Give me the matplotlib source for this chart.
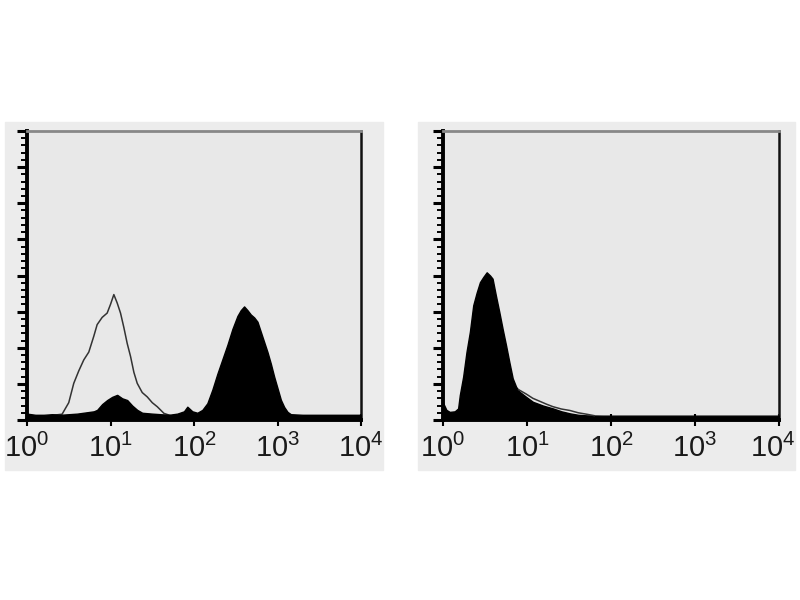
import numpy as np
import matplotlib
matplotlib.use("Agg")
import matplotlib.pyplot as plt
from matplotlib.patches import Rectangle
from matplotlib.ticker import FixedLocator, MultipleLocator
from matplotlib.transforms import ScaledTranslation

plt.rcParams["font.family"] = ["Liberation Sans", "DejaVu Sans"]
plt.rcParams["mathtext.default"] = "regular"

# ---- data (log10 of fluorescence, counts in % of full scale) ----
left_fill_log = [0.00, 0.10, 0.20, 0.30, 0.40, 0.50, 0.60, 0.70, 0.80, 0.84, 0.90, 0.96,
                 1.02, 1.08, 1.14, 1.20, 1.26, 1.32, 1.38, 1.50, 1.60, 1.70, 1.80, 1.88,
                 1.92, 1.98, 2.04, 2.10, 2.16, 2.22, 2.28, 2.34, 2.40, 2.46, 2.52, 2.56,
                 2.60, 2.64, 2.68, 2.72, 2.76, 2.80, 2.84, 2.88, 2.92, 2.96, 3.00, 3.04,
                 3.08, 3.12, 3.16, 3.30, 3.50, 3.70, 3.90, 4.00]
left_fill_cnt = [2.2, 1.8, 1.8, 2.0, 1.8, 2.0, 2.2, 2.6, 3.0, 3.5, 5.5, 6.9,
                 8.0, 8.7, 7.5, 6.9, 5.0, 3.5, 2.5, 2.2, 2.0, 1.8, 2.2, 3.0,
                 4.6, 3.0, 2.5, 3.5, 5.8, 10.5, 16.0, 21.0, 26.0, 31.5, 36.0, 38.0,
                 39.3, 38.0, 36.5, 35.5, 34.0, 30.5, 27.0, 23.5, 19.5, 15.0, 11.0, 7.0,
                 4.5, 2.8, 2.0, 1.8, 1.8, 1.8, 1.8, 1.8]

left_open_log = [0.00, 0.20, 0.28, 0.36, 0.42, 0.50, 0.56, 0.62, 0.68, 0.74, 0.80, 0.84,
                 0.90, 0.96, 1.00, 1.04, 1.08, 1.12, 1.16, 1.20, 1.24, 1.28, 1.32, 1.38,
                 1.44, 1.50, 1.56, 1.64, 1.75, 1.90]
left_open_cnt = [0.5, 0.5, 1.5, 1.8, 2.0, 6.0, 12.7, 17.0, 20.8, 23.5, 29.0, 33.0,
                 35.5, 37.0, 40.0, 43.4, 40.5, 37.0, 32.0, 26.5, 22.0, 16.5, 12.7, 9.5,
                 8.0, 6.0, 4.6, 2.3, 1.2, 0.8]

right_fill_log = [0.00, 0.04, 0.08, 0.14, 0.18, 0.20, 0.24, 0.28, 0.32, 0.36, 0.40, 0.44,
                  0.48, 0.52, 0.56, 0.59, 0.63, 0.67, 0.71, 0.75, 0.79, 0.83, 0.87, 0.91,
                  0.99, 1.07, 1.19, 1.31, 1.41, 1.51, 1.61, 1.71, 1.90, 2.20, 2.60, 3.00,
                  3.50, 4.00]
right_fill_cnt = [6.0, 3.5, 2.8, 3.0, 4.0, 8.6, 15.0, 23.6, 30.5, 39.7, 44.0, 47.7,
                  49.5, 51.1, 50.0, 48.9, 43.0, 37.4, 31.5, 25.9, 20.0, 14.4, 11.5, 9.8,
                  8.0, 6.3, 5.0, 4.0, 3.0, 2.3, 1.8, 1.6, 1.5, 1.5, 1.5, 1.5,
                  1.5, 1.5]

right_open_log = [0.90, 0.99, 1.07, 1.15, 1.23, 1.31, 1.41, 1.51, 1.61, 1.71, 1.80]
right_open_cnt = [10.5, 9.0, 7.5, 6.5, 5.5, 4.6, 3.8, 3.3, 2.5, 2.0, 1.5]

tick_values = [1, 10, 100, 1000, 10000]
tick_labels = [r"$10^0$", r"$10^1$", r"$10^2$", r"$10^3$", r"$10^4$"]

# ---- figure ----
fig = plt.figure(figsize=(8, 6), dpi=100)
fig.patch.set_facecolor("white")

panel_bg = "#ececec"
face = "#e8e8e8"
# panel backgrounds (figure coords)
fig.add_artist(Rectangle((5/800, 1-470/600), 378/800, 348/600,
                         transform=fig.transFigure, color=panel_bg, zorder=-5))
fig.add_artist(Rectangle((418/800, 1-470/600), 377/800, 348/600,
                         transform=fig.transFigure, color=panel_bg, zorder=-5))

axL = fig.add_axes([27/800, 1-420/600, 334/800, 289/600])
axR = fig.add_axes([443/800, 1-420/600, 336/800, 289/600])
axL.set_zorder(2)
axR.set_zorder(2)


def style(ax):
    ax.set_facecolor(face)
    ax.set_xscale("log")
    ax.set_xlim(1, 10000)
    ax.set_ylim(0, 100)
    ax.xaxis.set_major_locator(FixedLocator(tick_values))
    ax.set_xticklabels(tick_labels)
    ax.xaxis.set_minor_locator(FixedLocator([]))
    ax.yaxis.set_major_locator(MultipleLocator(12.5))
    ax.yaxis.set_minor_locator(MultipleLocator(2.5))
    ax.set_yticklabels([])
    ax.tick_params(axis="x", which="major", direction="inout", length=8, width=1.5,
                   labelsize=21, pad=6, colors="black", labelcolor="#1a1a1a")
    ax.tick_params(axis="y", which="major", direction="out", length=7, width=2.2)
    ax.tick_params(axis="y", which="minor", direction="out", length=4, width=1.4)
    for s in ["left", "bottom"]:
        ax.spines[s].set_linewidth(2.8)
        ax.spines[s].set_color("black")
    ax.spines["right"].set_linewidth(1.8)
    ax.spines["right"].set_color("#111111")
    ax.spines["top"].set_linewidth(2.0)
    ax.spines["top"].set_color("#888888")


style(axL)
style(axR)

# nudge the last right-hand label inward so it stays on the canvas
last = axR.get_xticklabels()[-1]
last.set_transform(last.get_transform() + ScaledTranslation(-6/100, 0, fig.dpi_scale_trans))

xl = np.power(10.0, left_fill_log)
axL.fill_between(xl, 0, left_fill_cnt, color="black", lw=1.0, zorder=3)
xo = np.power(10.0, left_open_log)
axL.plot(xo, left_open_cnt, color="#333333", lw=1.1, zorder=2)

xr = np.power(10.0, right_fill_log)
axR.fill_between(xr, 0, right_fill_cnt, color="black", lw=1.0, zorder=3)
xro = np.power(10.0, right_open_log)
axR.plot(xro, right_open_cnt, color="#333333", lw=1.1, zorder=4)

fig.savefig("out.png", dpi=100, facecolor="white")
